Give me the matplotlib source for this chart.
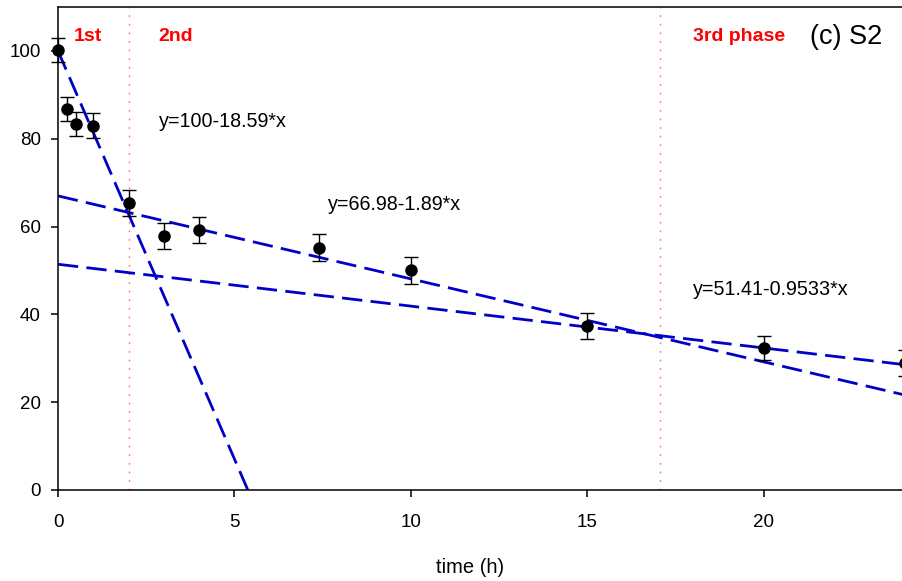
import numpy as np
import matplotlib
matplotlib.use("Agg")
import matplotlib.pyplot as plt

plt.rcParams['font.family'] = ['Liberation Sans', 'DejaVu Sans']

# measured points (mean +/- error)
time_h = [0, 0.25, 0.5, 1, 2, 3, 4, 7.4, 10, 15, 20, 24]
remaining = [100.2, 86.8, 83.4, 83.0, 65.4, 57.9, 59.2, 55.2, 50.0, 37.4, 32.3, 28.9]
err = [2.8, 2.8, 2.8, 2.9, 3.0, 2.9, 2.9, 3.0, 3.0, 2.9, 2.8, 2.9]

# linear fits per phase: (intercept, slope)
fits = [(100, -18.59), (66.98, -1.89), (51.41, -0.9533)]
fit_labels = ["y=100-18.59*x", "y=66.98-1.89*x", "y=51.41-0.9533*x"]
label_pos = [(2.85, 84), (7.65, 65.0), (17.98, 45.6)]

phase_bounds = [2, 17.05]
phase_names = ["1st", "2nd", "3rd phase"]
phase_x = [0.45, 2.85, 18.0]

fig = plt.figure(figsize=(9.02, 5.81), dpi=100)
ax = fig.add_axes([58 / 902, 91 / 581, 847 / 902, 483 / 581])

xx = np.linspace(0, 24, 500)
for b, m in fits:
    ax.plot(xx, b + m * xx, color='#0000c8', lw=2.0,
            linestyle=(0, (7.3, 3.0)), zorder=2)

for xb in phase_bounds:
    ax.axvline(xb, color='#ff6a6a', lw=1.0, linestyle=(0, (1.2, 5)), zorder=1)

pts = ax.errorbar(time_h, remaining, yerr=err, fmt='o', color='black', ms=8,
                  ecolor='black', elinewidth=1, capsize=5, capthick=1, zorder=3)
for art in pts.get_children():
    art.set_clip_on(False)

for (tx, ty), s in zip(label_pos, fit_labels):
    ax.text(tx, ty, s, fontsize=14.2, va='center', ha='left')

for tx, s in zip(phase_x, phase_names):
    ax.text(tx, 103.2, s, fontsize=14, fontweight='bold', color='red',
            va='center', ha='left')
ax.text(21.3, 103.1, "(c) S2", fontsize=19.5, va='center', ha='left')

ax.set_xlim(0, 24)
ax.set_ylim(0, 110)
ax.set_xticks([0, 5, 10, 15, 20])
ax.set_yticks([0, 20, 40, 60, 80, 100])
ax.tick_params(direction='out', length=5, width=1.1, labelsize=13.5)
ax.tick_params(axis='x', pad=12)
ax.tick_params(axis='y', pad=7.5)
for sp in ax.spines.values():
    sp.set_linewidth(1.1)

ax.set_xlabel("time (h)", fontsize=14.5)
ax.xaxis.set_label_coords((470 - 58) / 847, -0.14)

fig.savefig("out.png", dpi=100)
